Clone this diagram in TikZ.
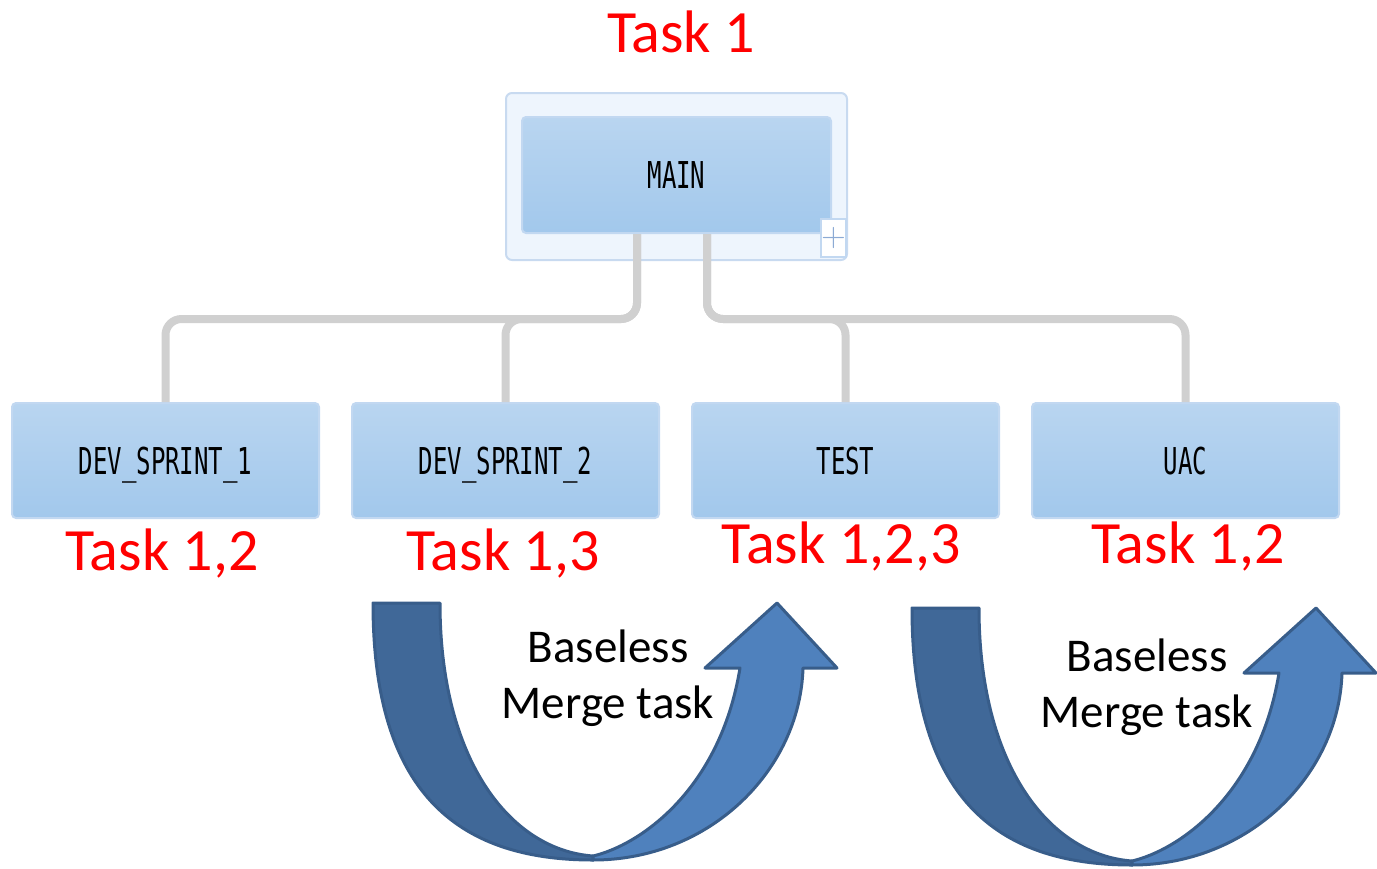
\documentclass[tikz,border=0pt]{standalone}
\usepackage{fontspec}
\usepackage{graphicx}
\setmainfont{Carlito}
\newfontfamily\monof{DejaVu Sans Mono}
\usetikzlibrary{calc}
\definecolor{boxtop}{RGB}{185,213,240}
\definecolor{boxbot}{RGB}{162,200,236}
\definecolor{boxrim}{RGB}{194,216,241}
\definecolor{outerfill}{RGB}{238,245,253}
\definecolor{outerrim}{RGB}{200,218,240}
\definecolor{conngrey}{RGB}{208,208,208}
\definecolor{arrdark}{RGB}{64,104,152}
\definecolor{arrlight}{RGB}{79,129,189}
\definecolor{arrline}{RGB}{56,93,138}
\definecolor{plusblue}{RGB}{140,170,212}
\newcommand\boxlbl[1]{\raisebox{0pt}[\height][0pt]{\scalebox{0.65}[1]{\fontsize{18.5}{20}\selectfont\monof #1}}}
\begin{document}
\begin{tikzpicture}[x=0.5pt,y=-0.5pt,
 branch/.style={rectangle, rounded corners=2pt, minimum width=153.5pt, minimum height=57.5pt, inner sep=0pt, top color=boxtop, bottom color=boxbot, draw=boxrim, line width=1pt},
 conn/.style={draw=conngrey, line width=4pt, rounded corners=8pt},
 tasklbl/.style={anchor=base, text=red, font=\fontsize{30}{36}\selectfont, inner sep=0pt},
 mergelbl/.style={anchor=base, align=center, font=\fontsize{23.5}{28}\selectfont, inner sep=0pt},
 band/.style={draw=arrline, line width=1.5pt, line join=round}
]
\useasboundingbox (0,0) rectangle (1377,868);

\node[tasklbl] (t0) at (681,52) {Task 1};

\node[draw=outerrim, fill=outerfill, line width=1pt, rounded corners=3pt, minimum width=170.5pt, minimum height=83.5pt, inner sep=0pt] (mainouter) at (676.5,176.5) {};
\node[branch, minimum width=154.5pt, minimum height=58pt] (main) at (676.5,175) {\boxlbl{MAIN}};

\node[branch] (dev1) at (165.5,460.5) {\boxlbl{DEV\_SPRINT\_1}};
\node[branch] (dev2) at (505.5,460.5) {\boxlbl{DEV\_SPRINT\_2}};
\node[branch] (test) at (845.5,460.5) {\boxlbl{TEST}};
\node[branch] (uac) at (1185.5,460.5) {\boxlbl{UAC}};

\draw[conn] ($(main.south)+(-39.5,0)$) -- ++(0,85) -| (dev1.north);
\draw[conn] ($(main.south)+(-39.5,0)$) -- ++(0,85) -| (dev2.north);
\draw[conn] ($(main.south)+(30.5,0)$) -- ++(0,85) -| (test.north);
\draw[conn] ($(main.south)+(30.5,0)$) -- ++(0,85) -| (uac.north);

\node[draw=boxrim, fill=white, line width=1pt, minimum width=11.5pt, minimum height=19pt, inner sep=0pt, text=plusblue, font=\fontsize{17}{17}\selectfont\sffamily] (plus) at (833.5,238) {+};

\node[tasklbl] (l1) at (162,570) {Task 1,2};
\node[tasklbl] (l2) at (503,570) {Task 1,3};
\node[tasklbl] (l3) at (841,563) {Task 1,2,3};
\node[tasklbl] (l4) at (1188,563) {Task 1,2};

\foreach \dx/\dy in {0/0, 539/5} {
 \begin{scope}[shift={(\dx,\dy)}]
  \filldraw[band, fill=arrdark] (373,603) .. controls (373,790) and (455,860) .. (593,860) -- (593,856) .. controls (510,850) and (440,760) .. (440,603) -- cycle;
  \filldraw[band, fill=arrlight] (593,860) .. controls (710,860) and (800,770) .. (803,668) -- (837,668) -- (777,603) -- (705,668) -- (740,668) .. controls (720,790) and (640,845) .. (593,856) -- cycle;
 \end{scope}
}

\node[mergelbl] (m1) at (608,718) {Baseless\\Merge task};
\node[mergelbl] (m2) at (1147,727) {Baseless\\Merge task};
\end{tikzpicture}
\end{document}
